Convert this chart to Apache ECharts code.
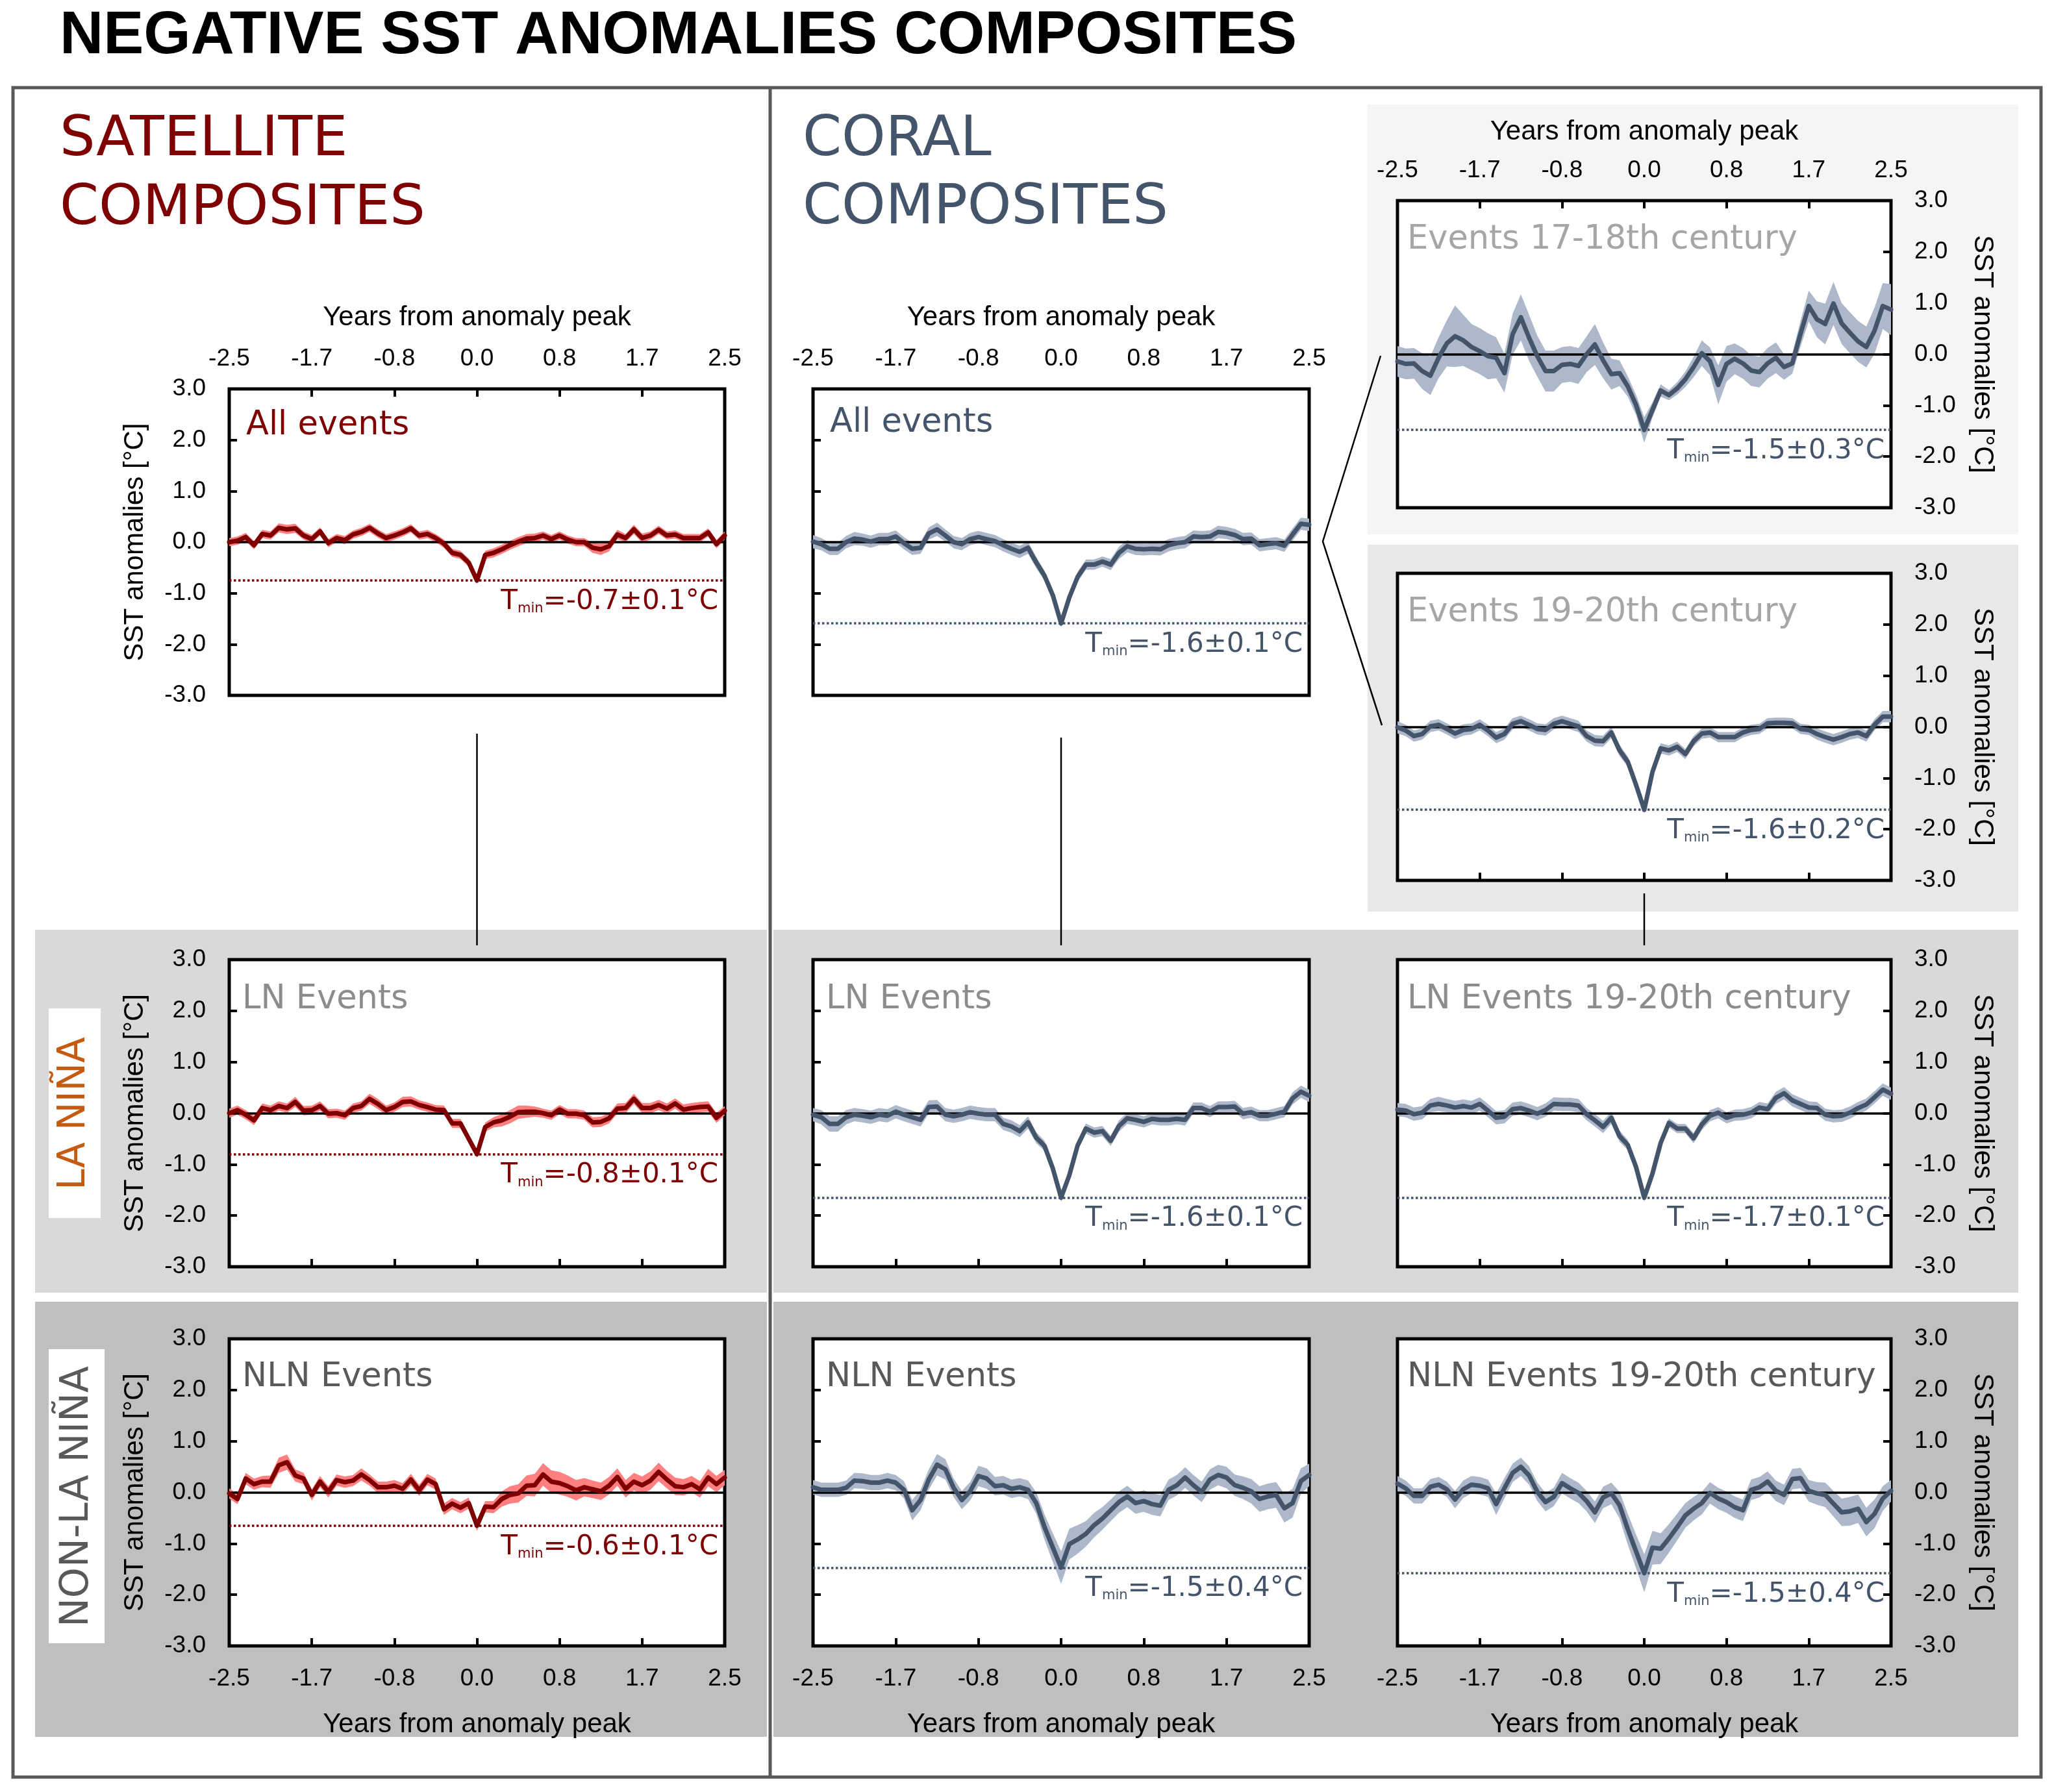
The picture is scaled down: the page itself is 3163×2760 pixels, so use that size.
<!DOCTYPE html>
<html><head><meta charset="utf-8">
<script src="https://cdn.jsdelivr.net/npm/echarts@6/dist/echarts.min.js"></script>
<style>html,body{margin:0;padding:0;background:#fff}#c{width:3163px;height:2760px}</style>
</head><body><div id="c"></div><script>
// ---------------- DATA ----------------
const months = [-30,-29,-28,-27,-26,-25,-24,-23,-22,-21,-20,-19,-18,-17,-16,-15,-14,-13,-12,-11,-10,-9,-8,-7,-6,-5,-4,-3,-2,-1,0,1,2,3,4,5,6,7,8,9,10,11,12,13,14,15,16,17,18,19,20,21,22,23,24,25,26,27,28,29,30];
const xTickLabels = ['-2.5','-1.7','-0.8','0.0','0.8','1.7','2.5'];
const yTickLabels = ['-3.0','-2.0','-1.0','0.0','1.0','2.0','3.0'];
const panelTitles = ['All events','LN Events','NLN Events','All events','LN Events','NLN Events','Events 17-18th century','Events 19-20th century','LN Events 19-20th century','NLN Events 19-20th century'];
const tminLabels = ['-0.7±0.1°C','-0.8±0.1°C','-0.6±0.1°C','-1.6±0.1°C','-1.6±0.1°C','-1.5±0.4°C','-1.5±0.3°C','-1.6±0.2°C','-1.7±0.1°C','-1.5±0.4°C'];

// Satellite composites
const satAll = [0.00,0.03,0.10,-0.06,0.16,0.13,0.28,0.25,0.27,0.13, 0.06,0.21,-0.02,0.08,0.04,0.15,0.20,0.28,0.17,0.08, 0.13,0.19,0.27,0.13,0.16,0.08,-0.03,-0.21,-0.25,-0.40, -0.75,-0.25,-0.21,-0.14,-0.06,0.01,0.07,0.08,0.13,0.06, 0.13,0.05,0.00,0.00,-0.11,-0.14,-0.08,0.15,0.08,0.25, 0.08,0.13,0.24,0.13,0.15,0.08,0.08,0.08,0.19,-0.04, 0.13];
const satAllErr = [0.08,0.08,0.08,0.08,0.08,0.08,0.09,0.09,0.09,0.08, 0.08,0.08,0.08,0.08,0.08,0.08,0.08,0.08,0.08,0.08, 0.08,0.08,0.08,0.08,0.08,0.08,0.08,0.08,0.08,0.08, 0.07,0.08,0.09,0.09,0.09,0.09,0.09,0.09,0.08,0.08, 0.08,0.08,0.08,0.08,0.10,0.11,0.10,0.09,0.08,0.09, 0.09,0.08,0.08,0.08,0.08,0.08,0.08,0.08,0.08,0.08, 0.08];
const satLN = [0.00,0.06,-0.03,-0.14,0.10,0.06,0.14,0.10,0.22,0.05, 0.06,0.14,-0.01,0.00,-0.04,0.10,0.14,0.28,0.18,0.06, 0.12,0.22,0.23,0.16,0.12,0.07,0.06,-0.20,-0.20,-0.50, -0.80,-0.27,-0.18,-0.14,-0.07,0.02,0.03,0.03,0.00,-0.04, 0.07,-0.01,-0.01,-0.04,-0.18,-0.17,-0.10,0.09,0.10,0.28, 0.10,0.10,0.16,0.09,0.19,0.07,0.10,0.12,0.13,-0.09, 0.05];
const satLNErr = [0.09,0.09,0.09,0.09,0.09,0.09,0.09,0.09,0.10,0.09, 0.09,0.09,0.09,0.09,0.09,0.09,0.09,0.10,0.10,0.09, 0.09,0.10,0.10,0.09,0.09,0.09,0.09,0.09,0.09,0.08, 0.07,0.09,0.10,0.12,0.13,0.13,0.12,0.10,0.09,0.09, 0.09,0.09,0.09,0.09,0.10,0.10,0.10,0.10,0.10,0.10, 0.10,0.10,0.10,0.10,0.10,0.10,0.10,0.10,0.10,0.10, 0.09];
const satNLN = [-0.02,-0.13,0.27,0.16,0.21,0.21,0.53,0.59,0.33,0.27, -0.05,0.21,0.01,0.24,0.20,0.23,0.35,0.24,0.10,0.10, 0.13,0.07,0.25,0.04,0.25,0.16,-0.33,-0.22,-0.30,-0.21, -0.65,-0.28,-0.29,-0.13,-0.05,-0.02,0.13,0.14,0.35,0.21, 0.18,0.12,0.04,0.10,0.06,0.02,0.13,0.30,0.07,0.21, 0.14,0.23,0.40,0.25,0.12,0.10,0.16,0.06,0.29,0.16, 0.29];
const satNLNErr = [0.10,0.10,0.11,0.11,0.11,0.12,0.15,0.15,0.12,0.11, 0.11,0.11,0.11,0.11,0.11,0.11,0.12,0.11,0.11,0.11, 0.11,0.11,0.11,0.11,0.11,0.11,0.11,0.11,0.11,0.11, 0.10,0.11,0.12,0.15,0.17,0.18,0.20,0.22,0.22,0.22, 0.22,0.21,0.20,0.18,0.17,0.17,0.17,0.17,0.17,0.17, 0.17,0.18,0.18,0.17,0.17,0.16,0.16,0.16,0.17,0.16, 0.15];

// Coral composites
const corAll = [0.01,-0.04,-0.13,-0.13,0.00,0.07,0.05,0.01,0.06,0.06, 0.11,-0.02,-0.13,-0.11,0.17,0.25,0.13,0.00,-0.04,0.06, 0.10,0.06,0.02,-0.06,-0.13,-0.19,-0.11,-0.40,-0.66,-1.04, -1.59,-1.08,-0.68,-0.44,-0.44,-0.38,-0.44,-0.21,-0.08,-0.13, -0.14,-0.13,-0.14,-0.06,-0.02,0.00,0.11,0.10,0.11,0.20, 0.18,0.14,0.06,0.07,-0.06,-0.04,-0.02,-0.07,0.15,0.36, 0.34];
const corAllErr = [0.13,0.12,0.12,0.12,0.12,0.13,0.12,0.12,0.12,0.12, 0.12,0.12,0.12,0.12,0.12,0.13,0.12,0.12,0.12,0.12, 0.12,0.12,0.12,0.12,0.12,0.12,0.12,0.11,0.10,0.09, 0.08,0.09,0.10,0.10,0.10,0.10,0.11,0.12,0.12,0.12, 0.12,0.12,0.12,0.12,0.12,0.12,0.12,0.12,0.12,0.12, 0.12,0.12,0.12,0.12,0.12,0.12,0.12,0.12,0.12,0.12, 0.12];
const corLN = [-0.03,-0.08,-0.21,-0.21,-0.08,-0.03,-0.05,-0.08,-0.03,-0.05, 0.03,-0.03,-0.08,-0.13,0.12,0.13,-0.03,-0.06,-0.03,0.02, -0.01,-0.03,-0.03,-0.21,-0.26,-0.35,-0.18,-0.48,-0.64,-1.08, -1.65,-1.21,-0.63,-0.30,-0.38,-0.35,-0.54,-0.25,-0.10,-0.13, -0.17,-0.11,-0.13,-0.13,-0.11,-0.13,0.10,0.10,0.03,0.12, 0.12,0.13,-0.01,0.02,-0.05,-0.05,-0.01,0.03,0.29,0.42, 0.34];
const corLNErr = [0.13,0.14,0.15,0.15,0.14,0.13,0.13,0.13,0.13,0.13, 0.13,0.13,0.13,0.13,0.13,0.13,0.13,0.13,0.13,0.13, 0.13,0.13,0.13,0.12,0.12,0.12,0.12,0.11,0.10,0.09, 0.08,0.09,0.09,0.10,0.10,0.10,0.10,0.11,0.11,0.11, 0.11,0.11,0.11,0.11,0.11,0.11,0.11,0.11,0.11,0.11, 0.11,0.11,0.11,0.11,0.11,0.11,0.11,0.11,0.12,0.12, 0.12];
const corNLN = [0.10,0.05,0.05,0.05,0.09,0.23,0.22,0.19,0.19,0.23, 0.19,0.05,-0.35,-0.15,0.25,0.54,0.45,0.09,-0.15,0.02, 0.32,0.27,0.12,0.14,0.07,0.10,0.05,-0.21,-0.68,-1.08, -1.47,-1.01,-0.92,-0.81,-0.64,-0.51,-0.35,-0.19,-0.08,-0.21, -0.17,-0.23,-0.26,0.05,0.14,0.29,0.14,0.01,0.25,0.34, 0.29,0.14,0.09,0.02,-0.13,-0.08,-0.05,-0.31,-0.21,0.22, 0.34];
const corNLNErr = [0.14,0.14,0.14,0.14,0.14,0.15,0.15,0.15,0.15,0.15, 0.15,0.17,0.20,0.20,0.20,0.21,0.20,0.18,0.18,0.18, 0.20,0.20,0.18,0.18,0.18,0.18,0.18,0.21,0.25,0.28, 0.32,0.30,0.28,0.25,0.24,0.22,0.21,0.21,0.21,0.21, 0.21,0.21,0.21,0.20,0.20,0.20,0.20,0.20,0.20,0.20, 0.21,0.21,0.22,0.24,0.25,0.25,0.25,0.28,0.28,0.25, 0.22];
const cor1718 = [-0.14,-0.19,-0.18,-0.33,-0.42,-0.07,0.21,0.35,0.27,0.14, 0.06,-0.04,-0.07,-0.37,0.39,0.72,0.32,-0.04,-0.33,-0.33, -0.21,-0.19,-0.23,0.00,0.19,-0.12,-0.39,-0.37,-0.63,-0.99, -1.48,-1.09,-0.71,-0.80,-0.67,-0.49,-0.25,0.02,-0.14,-0.60, -0.19,-0.09,-0.18,-0.32,-0.35,-0.18,-0.07,-0.25,-0.18,0.40, 0.94,0.68,0.59,0.99,0.60,0.42,0.25,0.14,0.46,0.94, 0.87];
const cor1718Err = [0.30,0.30,0.30,0.35,0.38,0.40,0.45,0.60,0.50,0.45, 0.45,0.45,0.40,0.38,0.40,0.45,0.45,0.40,0.40,0.40, 0.35,0.35,0.35,0.35,0.40,0.35,0.30,0.25,0.20,0.20, 0.25,0.15,0.12,0.10,0.12,0.15,0.20,0.25,0.27,0.38, 0.35,0.30,0.30,0.30,0.30,0.30,0.30,0.25,0.20,0.25, 0.30,0.35,0.40,0.42,0.40,0.40,0.40,0.40,0.45,0.45, 0.50];
const cor1920 = [-0.01,-0.07,-0.18,-0.14,0.01,0.04,-0.04,-0.13,-0.06,-0.04, 0.04,-0.07,-0.21,-0.14,0.06,0.11,0.04,-0.04,-0.06,0.06, 0.11,0.06,0.01,-0.18,-0.27,-0.28,-0.11,-0.46,-0.68,-1.13, -1.62,-0.88,-0.42,-0.46,-0.39,-0.53,-0.28,-0.13,-0.11,-0.20, -0.20,-0.20,-0.11,-0.06,-0.04,0.07,0.08,0.08,0.07,-0.04, -0.06,-0.14,-0.20,-0.25,-0.20,-0.14,-0.11,-0.18,0.04,0.20, 0.20];
const cor1920Err = [0.12,0.11,0.11,0.11,0.11,0.11,0.11,0.11,0.11,0.11, 0.11,0.11,0.11,0.11,0.11,0.11,0.11,0.11,0.11,0.11, 0.11,0.11,0.11,0.11,0.11,0.11,0.11,0.11,0.10,0.08, 0.07,0.08,0.10,0.10,0.10,0.10,0.10,0.10,0.10,0.10, 0.10,0.10,0.10,0.10,0.10,0.10,0.10,0.10,0.10,0.10, 0.10,0.11,0.11,0.11,0.11,0.11,0.11,0.11,0.11,0.11, 0.11];
const corLN1920 = [0.07,0.05,-0.02,0.01,0.15,0.18,0.15,0.11,0.14,0.11, 0.18,0.05,-0.09,-0.07,0.08,0.10,0.05,-0.01,0.06,0.18, 0.17,0.17,0.15,-0.02,-0.14,-0.27,-0.09,-0.45,-0.62,-1.05, -1.65,-1.18,-0.58,-0.19,-0.30,-0.30,-0.49,-0.22,-0.05,0.01, -0.09,-0.04,-0.03,0.01,0.11,0.08,0.30,0.39,0.25,0.18, 0.11,0.10,-0.03,-0.06,-0.05,0.01,0.10,0.17,0.31,0.46, 0.38];
const corLN1920Err = [0.13,0.13,0.13,0.13,0.13,0.14,0.13,0.13,0.13,0.13, 0.13,0.13,0.13,0.13,0.13,0.13,0.13,0.13,0.13,0.13, 0.13,0.13,0.13,0.12,0.12,0.12,0.12,0.11,0.10,0.09, 0.08,0.09,0.09,0.09,0.09,0.09,0.10,0.11,0.11,0.11, 0.11,0.11,0.11,0.11,0.11,0.11,0.12,0.12,0.12,0.12, 0.12,0.12,0.12,0.12,0.12,0.12,0.12,0.12,0.12,0.12, 0.12];
const corNLN1920 = [0.17,0.08,-0.07,-0.07,0.11,0.15,0.06,-0.14,0.06,0.15, 0.13,0.08,-0.23,0.08,0.38,0.50,0.33,0.01,-0.19,-0.09, 0.18,0.08,-0.01,-0.17,-0.39,-0.10,-0.02,-0.25,-0.72,-1.15, -1.58,-1.08,-1.10,-0.90,-0.68,-0.45,-0.32,-0.21,-0.01,-0.12, -0.19,-0.29,-0.35,0.05,0.10,0.21,0.03,-0.05,0.26,0.28, 0.03,-0.02,-0.05,-0.22,-0.39,-0.37,-0.32,-0.58,-0.42,-0.12, 0.03];
const corNLN1920Err = [0.15,0.15,0.15,0.15,0.15,0.15,0.15,0.17,0.17,0.17, 0.17,0.17,0.21,0.20,0.18,0.18,0.18,0.18,0.18,0.18, 0.20,0.20,0.20,0.20,0.21,0.21,0.21,0.26,0.30,0.33, 0.37,0.33,0.30,0.28,0.26,0.24,0.23,0.22,0.21,0.21, 0.21,0.21,0.21,0.20,0.20,0.20,0.20,0.20,0.20,0.20, 0.21,0.22,0.24,0.25,0.27,0.28,0.28,0.28,0.28,0.24, 0.21];

// ---------------- STYLE / LAYOUT ----------------
const SAT = {line:'#7f0000', band:'#ff8080', lw:7};
const COR = {line:'#44546a', band:'#adb9ca', lw:7};
const COLS = [{left:353, width:763}, {left:1252, width:764}, {left:2152, width:760}];
const panels = [
  {mean:satAll, err:satAllErr, pal:SAT, col:0, top:599, h:472, xs:'top', xl:true, ng:89, ys:'left', yl:true, tc:'#7f0000', dx:26, dy:57},
  {mean:satLN, err:satLNErr, pal:SAT, col:0, top:1478, h:473, xs:'bottom', xl:false, ng:100, ys:'left', yl:true, tc:'#8c8c8c', dx:20, dy:62},
  {mean:satNLN, err:satNLNErr, pal:SAT, col:0, top:2062, h:473, xs:'bottom', xl:true, ng:100, ys:'left', yl:true, tc:'#595959', dx:20, dy:60},
  {mean:corAll, err:corAllErr, pal:COR, col:1, top:599, h:472, xs:'none', xl:true, ng:89, ys:'left', yl:false, tc:'#44546a', dx:26, dy:53},
  {mean:corLN, err:corLNErr, pal:COR, col:1, top:1478, h:473, xs:'bottom', xl:false, ng:100, ys:'left', yl:false, tc:'#8c8c8c', dx:20, dy:62},
  {mean:corNLN, err:corNLNErr, pal:COR, col:1, top:2062, h:473, xs:'bottom', xl:true, ng:100, ys:'left', yl:false, tc:'#595959', dx:20, dy:60},
  {mean:cor1718, err:cor1718Err, pal:COR, col:2, top:309, h:473, xs:'top', xl:true, ng:85, ys:'right', yl:true, tc:'#a6a6a6', dx:15, dy:61},
  {mean:cor1920, err:cor1920Err, pal:COR, col:2, top:883, h:473, xs:'bottom', xl:false, ng:100, ys:'right', yl:true, tc:'#a6a6a6', dx:15, dy:61},
  {mean:corLN1920, err:corLN1920Err, pal:COR, col:2, top:1478, h:473, xs:'bottom', xl:false, ng:100, ys:'right', yl:true, tc:'#8c8c8c', dx:15, dy:62},
  {mean:corNLN1920, err:corNLN1920Err, pal:COR, col:2, top:2062, h:473, xs:'bottom', xl:true, ng:100, ys:'right', yl:true, tc:'#595959', dx:15, dy:60}
];

const fmtX = v => { const k = Math.round((v + 2.5) / (5/6)); return (Math.abs(-2.5 + k*5/6 - v) < 1e-6 && xTickLabels[k] !== undefined) ? xTickLabels[k] : ''; };
const fmtY = v => { const k = Math.round(v + 3); return (Math.abs(k - 3 - v) < 1e-6 && yTickLabels[k] !== undefined) ? yTickLabels[k] : ''; };
const ARIAL = 'Liberation Sans, Arial, sans-serif';
const DEJA = 'DejaVu Sans, Verdana, sans-serif';

const grids = [], xAxes = [], yAxes = [], series = [], gfx = [];
panels.forEach((p, i) => {
  const c = COLS[p.col];
  const topAxis = p.xs === 'top' || (p.xs === 'none' && p.xl);
  grids.push({left:c.left, top:p.top, width:c.width, height:p.h, show:true, borderColor:'#000', borderWidth:5, backgroundColor:'#fff', containLabel:false, outerBoundsMode:'none'});
  xAxes.push({
    gridIndex:i, type:'value', min:-2.5, max:2.5, interval:5/6,
    position: topAxis ? 'top' : 'bottom',
    axisLine:{show:false, onZero:false}, splitLine:{show:false},
    axisTick:{show:p.xs !== 'none', inside:true, length:12, lineStyle:{color:'#000', width:4}},
    axisLabel:{show:p.xl, margin: topAxis ? 28 : 32, fontFamily:ARIAL, fontSize:37, color:'#000', formatter:fmtX, showMinLabel:true, showMaxLabel:true, hideOverlap:false},
    name: p.xl ? 'Years from anomaly peak' : '', nameLocation:'middle', nameGap:p.ng,
    nameTextStyle:{fontFamily:ARIAL, fontSize:42, color:'#000'}
  });
  yAxes.push({
    gridIndex:i, type:'value', min:-3, max:3, interval:1, position:p.ys,
    axisLine:{show:false, onZero:false}, splitLine:{show:false},
    axisTick:{show:true, inside:true, length:12, lineStyle:{color:'#000', width:4}},
    axisLabel:{show:p.yl, margin:36, fontFamily:ARIAL, fontSize:37, color:'#000', formatter:fmtY, showMinLabel:true, showMaxLabel:true},
    name: p.yl ? 'SST anomalies [°C]' : '', nameLocation:'middle', nameRotate: p.ys === 'left' ? 90 : -90,
    nameGap: p.ys === 'left' ? 124 : 120,
    nameTextStyle:{fontFamily:ARIAL, fontSize:42, color:'#000'}
  });
  // uncertainty band (mean ± err) drawn as one polygon through the axis scales
  const bandRows = months.map((m, k) => [m/12, p.mean[k] - p.err[k], p.mean[k] + p.err[k]]);
  series.push({
    type:'custom', coordinateSystem:'cartesian2d', xAxisIndex:i, yAxisIndex:i, silent:true, z:1,
    data:bandRows, encode:{x:0, y:[1,2]},
    renderItem:(params, api) => {
      if (params.dataIndex !== 0) return null;
      const up = bandRows.map(r => api.coord([r[0], r[2]]));
      const lo = bandRows.map(r => api.coord([r[0], r[1]])).reverse();
      return {type:'polygon', shape:{points:up.concat(lo)}, style:{fill:p.pal.band, stroke:null}};
    }
  });
  const mean = months.map((m, k) => [m/12, p.mean[k]]);
  const tStyle = {fontFamily:DEJA, fontSize:42, color:p.pal.line, lineHeight:46, verticalAlign:'bottom'};
  series.push({
    type:'line', xAxisIndex:i, yAxisIndex:i, data:mean, symbol:'none', silent:true, z:3,
    lineStyle:{color:p.pal.line, width:p.pal.lw, join:'round', cap:'round'},
    markLine:{silent:true, symbol:['none','none'], animation:false, z:2,
      data:[
        {yAxis:0, lineStyle:{color:'#000', type:'solid', width:3.5}, label:{show:false}},
        {type:'min', valueDim:'y', lineStyle:{color:p.pal.line, type:'dotted', width:3.5}, label:{show:true, position:'insideEndBottom', distance:[10,8],
          formatter:'{t|T}{s|min}{v|=' + tminLabels[i] + '}',
          rich:{t:tStyle, v:tStyle, s:{fontFamily:DEJA, fontSize:21, color:p.pal.line, lineHeight:14, verticalAlign:'bottom'}}}}
      ]}
  });
  gfx.push({type:'text', x:c.left + p.dx, y:p.top + p.dy, z:50, silent:true,
    style:{text:panelTitles[i], fill:p.tc, font:'51px ' + DEJA, textAlign:'left', textVerticalAlign:'middle', verticalAlign:'middle'}});
});

// backgrounds, frames, headings, connectors
const bg = [
  {x:2106, y:161, w:1002, h:662, c:'#f5f5f5'},
  {x:2106, y:839, w:1002, h:565, c:'#e8e8e8'},
  {x:54, y:1432, w:1127, h:559, c:'#d9d9d9'},
  {x:1191, y:1432, w:1917, h:559, c:'#d9d9d9'},
  {x:54, y:2005, w:1127, h:670, c:'#bfbfbf'},
  {x:1191, y:2005, w:1917, h:670, c:'#bfbfbf'}
];
bg.forEach(b => gfx.push({type:'rect', z:-100, silent:true, shape:{x:b.x, y:b.y, width:b.w, height:b.h}, style:{fill:b.c}}));
gfx.push({type:'rect', z:60, silent:true, shape:{x:20, y:135, width:3123, height:2602}, style:{fill:null, stroke:'#595959', lineWidth:5}});
gfx.push({type:'line', z:60, silent:true, shape:{x1:1186, y1:135, x2:1186, y2:2737}, style:{stroke:'#595959', lineWidth:5}});
// row label boxes
gfx.push({type:'rect', z:-90, silent:true, shape:{x:75, y:1553, width:80, height:323}, style:{fill:'#fff'}});
gfx.push({type:'rect', z:-90, silent:true, shape:{x:75, y:2078, width:86, height:453}, style:{fill:'#fff'}});
gfx.push({type:'text', x:115, y:1715, rotation:Math.PI/2, z:50, silent:true, style:{text:'LA NIÑA', fill:'#c55a11', font:'58px ' + DEJA, textAlign:'center', textVerticalAlign:'middle', verticalAlign:'middle'}});
gfx.push({type:'text', x:119, y:2305, rotation:Math.PI/2, z:50, silent:true, style:{text:'NON-LA NIÑA', fill:'#595959', font:'60px ' + DEJA, textAlign:'center', textVerticalAlign:'middle', verticalAlign:'middle'}});
// headings
gfx.push({type:'text', x:92, y:56, z:50, silent:true, style:{text:'NEGATIVE SST ANOMALIES COMPOSITES', fill:'#000', font:'bold 93px ' + ARIAL, textAlign:'left', textVerticalAlign:'middle', verticalAlign:'middle'}});
[['SATELLITE',92,217,'#7f0000'],['COMPOSITES',92,323,'#7f0000'],['CORAL',1236,217,'#44546a'],['COMPOSITES',1236,322,'#44546a']].forEach(t =>
  gfx.push({type:'text', x:t[1], y:t[2], z:50, silent:true, style:{text:t[0], fill:t[3], font:'86px ' + DEJA, textAlign:'left', textVerticalAlign:'middle', verticalAlign:'middle'}}));
// connectors
const colMid = k => COLS[k].left + COLS[k].width / 2;
gfx.push({type:'polyline', z:60, silent:true, shape:{points:[[2126,548],[2037,834],[2128,1117]]}, style:{stroke:'#000', lineWidth:2.5, fill:null}});
gfx.push({type:'line', z:60, silent:true, shape:{x1:colMid(0), y1:1130, x2:colMid(0), y2:1456}, style:{stroke:'#000', lineWidth:2.5}});
gfx.push({type:'line', z:60, silent:true, shape:{x1:colMid(1), y1:1136, x2:colMid(1), y2:1456}, style:{stroke:'#000', lineWidth:2.5}});
gfx.push({type:'line', z:60, silent:true, shape:{x1:colMid(2), y1:1376, x2:colMid(2), y2:1456}, style:{stroke:'#000', lineWidth:2.5}});

const chart = echarts.init(document.getElementById('c'), null, {renderer:'canvas'});
chart.setOption({
  animation:false, backgroundColor:'#fff',
  grid:grids, xAxis:xAxes, yAxis:yAxes, series:series,
  graphic:{elements:gfx}
});
</script></body></html>
